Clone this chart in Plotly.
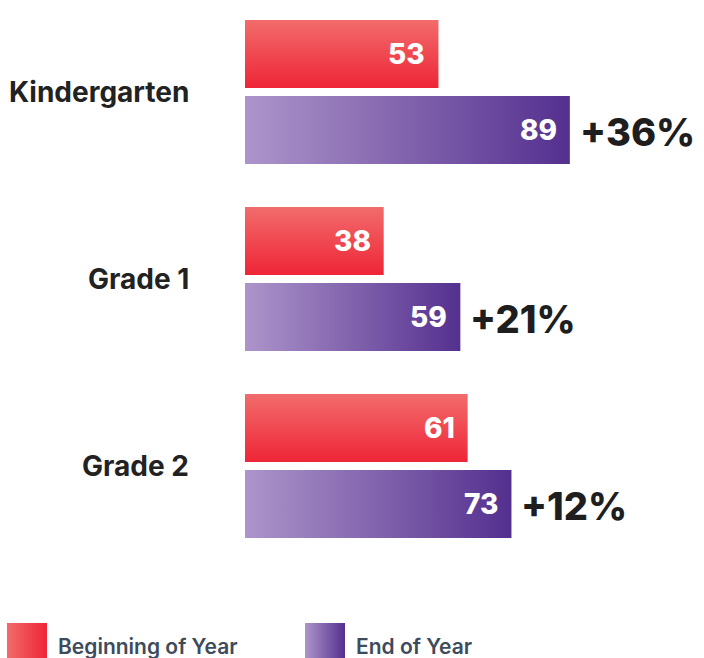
import plotly.graph_objects as go

categories = ["Kindergarten", "Grade 1", "Grade 2"]
beginning = [53, 38, 61]
end_year = [89, 59, 73]
series_names = ["Beginning of Year", "End of Year"]

RED_LIGHT, RED_DARK = "#f26c6c", "#ee2537"
PUR_LIGHT, PUR_DARK = "#ad95ca", "#54308f"
FONT = "Inter, 'Open Sans', sans-serif"

W, H = 704, 658
PX_PER_UNIT = 3.65          # horizontal scale
X0_PX = 245                 # pixel of value 0
ROW_PX = 187                # pixels per category row
TOP_PX = 92                 # pixel of first row centre
BAR_H = 68 / ROW_PX
GAP = 4 / ROW_PX

fig = go.Figure()

def rect(x0, x1, y0, y1, grad, cs, name, xa="x", ya="y"):
    fig.add_trace(go.Scatter(
        x=[x0, x1, x1, x0, x0], y=[y0, y0, y1, y1, y0],
        mode="lines", fill="toself", line=dict(width=0),
        fillgradient=dict(type=grad, colorscale=cs),
        name=name, showlegend=False, hoverinfo="skip",
        xaxis=xa, yaxis=ya))

annotations = []
for i, cat in enumerate(categories):
    b, e = beginning[i], end_year[i]
    # beginning bar (vertical gradient, light top)
    rect(0, b, i - GAP - BAR_H, i - GAP, "vertical",
         [[0, RED_DARK], [1, RED_LIGHT]], series_names[0])
    # end bar (horizontal gradient, light left)
    rect(0, e, i + GAP, i + GAP + BAR_H, "horizontal",
         [[0, PUR_LIGHT], [1, PUR_DARK]], series_names[1])
    annotations.append(dict(x=b, y=i - GAP - BAR_H / 2, text=str(b), showarrow=False,
                            xanchor="right", xshift=-11,
                            font=dict(family=FONT, size=28, color="white", weight=800)))
    annotations.append(dict(x=e, y=i + GAP + BAR_H / 2, text=str(e), showarrow=False,
                            xanchor="right", xshift=-11,
                            font=dict(family=FONT, size=28, color="white", weight=800)))
    annotations.append(dict(x=e, y=i + GAP + BAR_H / 2 + 0.01, text=f"+{e - b}%", showarrow=False,
                            xanchor="left", xshift=8,
                            font=dict(family=FONT, size=38, color="#1e1e1e", weight=800)))
    annotations.append(dict(x=0, y=i, text=cat, showarrow=False,
                            xanchor="right", xshift=-54,
                            font=dict(family=FONT, size=28, color="#222222", weight=700)))

# legend swatches on a pixel-based overlay axis
leg_items = [(7, series_names[0], [[0, RED_LIGHT], [1, RED_DARK]]),
             (305, series_names[1], [[0, PUR_LIGHT], [1, PUR_DARK]])]
for lx, name, cs in leg_items:
    rect(lx, lx + 40, 623, 662, "horizontal", cs, name, xa="x2", ya="y2")
    annotations.append(dict(x=lx + 49, y=646, xref="x2", yref="y2", text=name,
                            showarrow=False, xanchor="left",
                            font=dict(family=FONT, size=21, color="#3e4b5c", weight=600)))

fig.update_layout(
    width=W, height=H, margin=dict(l=0, r=0, t=0, b=0),
    paper_bgcolor="white", plot_bgcolor="rgba(0,0,0,0)",
    showlegend=False, annotations=annotations,
    xaxis=dict(range=[-X0_PX / PX_PER_UNIT, (W - X0_PX) / PX_PER_UNIT], visible=False, fixedrange=True),
    yaxis=dict(range=[(H - TOP_PX) / ROW_PX, -TOP_PX / ROW_PX], visible=False, fixedrange=True),
    xaxis2=dict(range=[0, W], visible=False, overlaying="x", fixedrange=True),
    yaxis2=dict(range=[H, 0], visible=False, overlaying="y", fixedrange=True),
)

fig.write_html("out.html", config={"displayModeBar": False},
               post_script="document.body.style.margin='0';")
